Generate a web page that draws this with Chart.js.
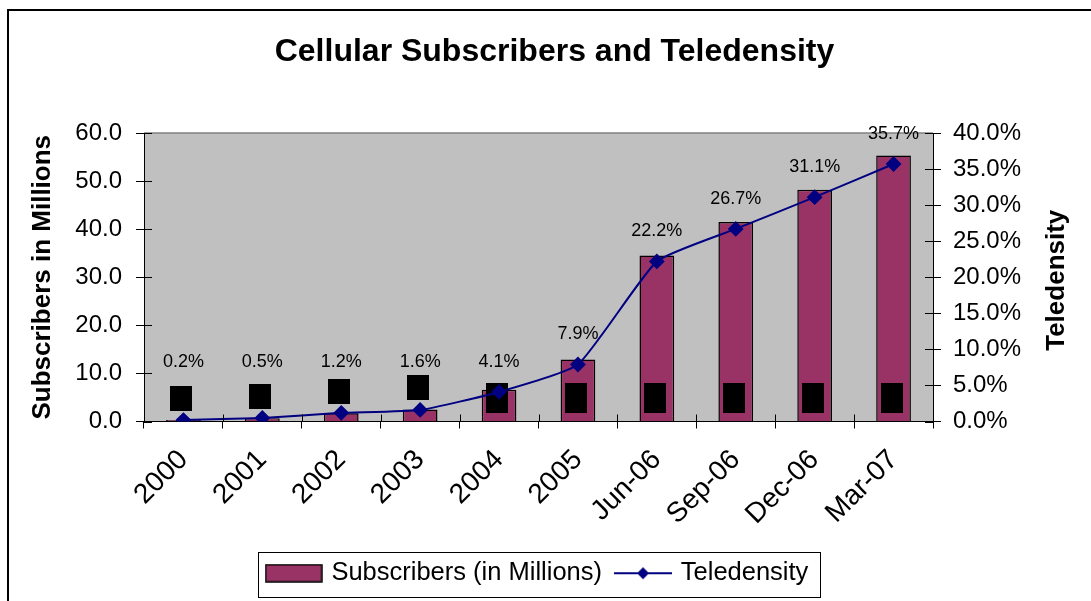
<!DOCTYPE html>
<html>
<head>
<meta charset="utf-8">
<title>Cellular Subscribers and Teledensity</title>
<script src="https://cdn.jsdelivr.net/npm/chart.js@4/dist/chart.umd.min.js"></script>
<style>
  html, body { margin: 0; padding: 0; background: #fff; }
  #wrap { position: relative; width: 1091px; height: 601px; }
</style>
</head>
<body>
<div id="wrap"><canvas id="chart"></canvas></div>
<script>
const periods = ['2000', '2001', '2002', '2003', '2004', '2005', 'Jun-06', 'Sep-06', 'Dec-06', 'Mar-07'];
const subscribers = [0.3, 0.7, 1.7, 2.5, 6.6, 12.9, 34.5, 41.5, 48.2, 55.3];
const teledensity = [0.2, 0.5, 1.2, 1.6, 4.1, 7.9, 22.2, 26.7, 31.1, 35.7];

const BAR = '#993366';
const LINE = '#000080';
const FONT = '"Liberation Sans", Arial, sans-serif';

// legend swatches: filled box for the bars, line with a diamond for the series
function barSwatch() {
  const c = document.createElement('canvas');
  c.width = 58; c.height = 19;
  const g = c.getContext('2d');
  g.fillStyle = BAR;
  g.fillRect(1, 1, 56, 17);
  g.strokeStyle = '#000';
  g.lineWidth = 1.5;
  g.strokeRect(1, 1, 56, 17);
  return c;
}
function lineSwatch() {
  const c = document.createElement('canvas');
  c.width = 58; c.height = 16;
  const g = c.getContext('2d');
  g.strokeStyle = LINE;
  g.lineWidth = 2;
  g.beginPath(); g.moveTo(0, 8); g.lineTo(58, 8); g.stroke();
  g.fillStyle = LINE;
  g.beginPath();
  g.moveTo(29, 2); g.lineTo(35, 8); g.lineTo(29, 14); g.lineTo(23, 8);
  g.closePath(); g.fill();
  return c;
}
const swatches = [barSwatch(), lineSwatch()];

// page background, outer frame, grey plot area
const framePlugin = {
  id: 'frame',
  beforeDraw(chart) {
    const { ctx, chartArea: a } = chart;
    ctx.save();
    ctx.fillStyle = '#fff';
    ctx.fillRect(0, 0, chart.width, chart.height);
    ctx.strokeStyle = '#000';
    ctx.lineWidth = 2;
    ctx.strokeRect(8, 10, chart.width + 20, chart.height + 20);
    ctx.fillStyle = '#c0c0c0';
    ctx.fillRect(a.left, a.top, a.right - a.left, a.bottom - a.top);
    ctx.strokeStyle = '#808080';
    ctx.lineWidth = 1.5;
    ctx.beginPath(); ctx.moveTo(a.left, a.top); ctx.lineTo(a.right, a.top); ctx.stroke();
    ctx.restore();
  },
  afterDraw(chart) {
    const { ctx, chartArea: a, scales } = chart;
    ctx.save();
    // tick marks also reach inside the plot area
    ctx.strokeStyle = '#000';
    ctx.lineWidth = 1;
    ctx.beginPath();
    scales.y.ticks.forEach((t, i) => {
      const y = Math.round(scales.y.getPixelForTick(i)) + 0.5;
      ctx.moveTo(a.left, y); ctx.lineTo(a.left + 8, y);
    });
    scales.y1.ticks.forEach((t, i) => {
      const y = Math.round(scales.y1.getPixelForTick(i)) + 0.5;
      ctx.moveTo(a.right - 8, y); ctx.lineTo(a.right, y);
    });
    const n = periods.length;
    for (let i = 0; i <= n; i++) {
      const x = Math.round(scales.x.left + i * scales.x.width / n) + 0.5;
      ctx.moveTo(x, a.bottom - 7); ctx.lineTo(x, a.bottom);
    }
    ctx.stroke();
    // right axis title reads bottom to top like the left one
    ctx.translate(1057, (a.top + a.bottom) / 2 + 3);
    ctx.rotate(-Math.PI / 2);
    ctx.font = 'bold 26px ' + FONT;
    ctx.fillStyle = '#000';
    ctx.textAlign = 'center';
    ctx.textBaseline = 'middle';
    ctx.fillText('Teledensity', 0, 0);
    ctx.restore();
  }
};

// black tags at the foot of each bar
const tagPlugin = {
  id: 'tags',
  afterDatasetDraw(chart, args) {
    if (args.index !== 0) return;
    const { ctx } = chart;
    const base = chart.scales.y.getPixelForValue(0);
    ctx.save();
    ctx.fillStyle = '#000';
    args.meta.data.forEach(bar => {
      const tall = base - bar.y > 28;
      const bottom = tall ? base - 9 : Math.min(base - 9, bar.y - 9);
      const h = tall ? 30 : 25;
      ctx.fillRect(Math.round(bar.x - 13), Math.round(bottom - h), 22, h);
    });
    ctx.restore();
  }
};

// teledensity values written above the line
const labelPlugin = {
  id: 'valueLabels',
  afterDatasetsDraw(chart) {
    const { ctx } = chart;
    const meta = chart.getDatasetMeta(1);
    ctx.save();
    ctx.font = '18px ' + FONT;
    ctx.fillStyle = '#000';
    ctx.textAlign = 'center';
    ctx.textBaseline = 'middle';
    meta.data.forEach((pt, i) => {
      const y = Math.min(pt.y - 30, 362);
      ctx.fillText(teledensity[i].toFixed(1) + '%', pt.x, y);
    });
    ctx.restore();
  }
};

// box drawn round the legend entries
const legendBoxPlugin = {
  id: 'legendBox',
  afterDraw(chart) {
    const lg = chart.legend;
    if (!lg || !lg.legendHitBoxes.length) return;
    const boxes = lg.legendHitBoxes;
    const left = Math.min(...boxes.map(b => b.left)) - 11;
    const right = Math.max(...boxes.map(b => b.left + b.width)) + 11;
    const { ctx } = chart;
    ctx.save();
    ctx.strokeStyle = '#000';
    ctx.lineWidth = 1;
    ctx.strokeRect(Math.round(left) + 0.5, Math.round(lg.top) + 7.5, Math.round(right - left), 45);
    ctx.restore();
  }
};

new Chart(document.getElementById('chart'), {
  type: 'bar',
  data: {
    labels: periods,
    datasets: [
      {
        type: 'bar',
        label: 'Subscribers (in Millions)',
        data: subscribers,
        backgroundColor: BAR,
        borderColor: '#000',
        borderWidth: 1.5,
        barPercentage: 0.44,
        categoryPercentage: 1,
        yAxisID: 'y',
        order: 2
      },
      {
        type: 'line',
        label: 'Teledensity',
        data: teledensity,
        borderColor: LINE,
        borderWidth: 2,
        backgroundColor: LINE,
        pointStyle: 'rectRot',
        pointRadius: 6.5,
        pointBackgroundColor: LINE,
        pointBorderColor: LINE,
        tension: 0.15,
        yAxisID: 'y1',
        order: 1
      }
    ]
  },
  options: {
    responsive: true,
    maintainAspectRatio: false,
    animation: false,
    layout: { padding: { left: 27, right: 9, top: 0, bottom: 5 } },
    plugins: {
      title: {
        display: true,
        text: 'Cellular Subscribers and Teledensity',
        color: '#000',
        font: { family: FONT, size: 32, weight: 'bold' },
        padding: { top: 33, bottom: 61.6 }
      },
      legend: {
        position: 'bottom',
        fullSize: false,
        labels: {
          usePointStyle: true,
          pointStyleWidth: 50,
          color: '#000',
          padding: 16,
          font: { family: FONT, size: 25.5 },
          generateLabels: chart => chart.data.datasets.map((ds, i) => ({
            text: ds.label,
            pointStyle: swatches[i],
            datasetIndex: i,
            fontColor: '#000',
            lineWidth: 0
          }))
        }
      },
      tooltip: { enabled: false }
    },
    scales: {
      x: {
        offset: true,
        grid: { display: true, offset: true, drawOnChartArea: false, tickLength: 7, color: '#000' },
        border: { display: true, color: '#000', width: 1 },
        ticks: {
          color: '#000',
          font: { family: FONT, size: 28 },
          minRotation: 45,
          maxRotation: 45,
          padding: 15
        },
        afterFit: s => { s.height = 123; }
      },
      y: {
        position: 'left',
        min: 0,
        max: 60,
        ticks: {
          stepSize: 10,
          color: '#000',
          font: { family: FONT, size: 24 },
          padding: 14,
          callback: v => v.toFixed(1)
        },
        grid: { drawOnChartArea: false, tickLength: 8, color: '#000' },
        border: { display: true, color: '#000', width: 1 },
        title: {
          display: true,
          text: 'Subscribers in Millions',
          color: '#000',
          font: { family: FONT, size: 26, weight: 'bold' },
          padding: { top: 0, bottom: 0 }
        },
        afterFit: s => { s.width = 117; }
      },
      y1: {
        position: 'right',
        min: 0,
        max: 40,
        ticks: {
          stepSize: 5,
          color: '#000',
          font: { family: FONT, size: 24 },
          padding: 12,
          callback: v => v.toFixed(1) + '%'
        },
        grid: { drawOnChartArea: false, tickLength: 8, color: '#000' },
        border: { display: true, color: '#000', width: 1 },
        afterFit: s => { s.width = 149; }
      }
    }
  },
  plugins: [framePlugin, tagPlugin, labelPlugin, legendBoxPlugin]
});
</script>
</body>
</html>
